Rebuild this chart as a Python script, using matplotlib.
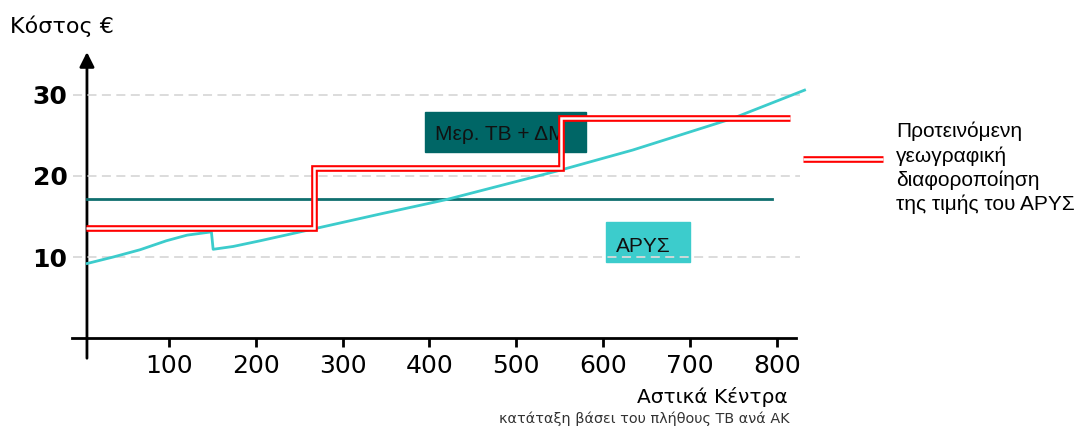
import matplotlib
matplotlib.use('Agg')
import matplotlib.pyplot as plt
import matplotlib.patheffects as pe
from matplotlib.patches import Rectangle
from matplotlib.lines import Line2D

# --- data ---
centres = [6, 36, 67, 97, 121, 149, 151, 174, 205, 268, 343, 420, 550, 634, 749, 832]
arys_cost = [9.2, 10.0, 10.9, 12.0, 12.7, 13.1, 10.95, 11.3, 12.0, 13.5, 15.3, 17.1, 20.7, 23.2, 27.1, 30.6]

flat_x = [6, 794]
flat_cost = [17.2, 17.2]

step_x = [5, 267, 551, 815]
step_cost = [13.6, 21.0, 27.2, 27.2]

x_ticks = [100, 200, 300, 400, 500, 600, 700, 800]
y_ticks = [10, 20, 30]

legend_label = 'Προτεινόμενη\nγεωγραφική\nδιαφοροποίηση\nτης τιμής του ΑΡΥΣ'
box_labels = ['Μερ. ΤΒ + ΔΜ', 'ΑΡΥΣ']

CYAN = '#3ccccc'
TEAL = '#006666'
ARIAL = ['Liberation Sans', 'DejaVu Sans']
double_red = [pe.Stroke(linewidth=4.8, foreground='#ff0000'), pe.Normal()]

fig = plt.figure(figsize=(10.83, 4.34), dpi=100)
ax = fig.add_axes([0.0661, 0.1652, 0.6816, 0.7279])
ax.set_xlim(-12, 838)
ax.set_ylim(-3, 36)

for s in ('top', 'right', 'left'):
    ax.spines[s].set_visible(False)
ax.spines['left'].set_position(('data', 5.7))
ax.spines['bottom'].set_position(('data', 0))
ax.spines['bottom'].set_bounds(-11, 822)
ax.spines['bottom'].set_linewidth(2)

ax.set_xticks(x_ticks)
ax.set_yticks(y_ticks)
ax.tick_params(axis='x', direction='out', length=6.5, width=2, pad=5, labelsize=18)
ax.tick_params(axis='y', length=0, pad=14, labelsize=18)
for t in ax.get_yticklabels():
    t.set_fontweight('bold')

# y axis with arrow head
ax.annotate('', xy=(5.7, 35.3), xytext=(5.7, -2.5),
            arrowprops=dict(arrowstyle='-|>', lw=2, color='black', mutation_scale=22,
                            shrinkA=0, shrinkB=0))

# dashed grid
ax.hlines(y_ticks, -10, 827, colors='#d9d9d9', linestyles=(0, (5, 3)), lw=1.3, zorder=3)

# boxes
ax.add_patch(Rectangle((395, 23.0), 185, 4.9, color=TEAL, zorder=2))
ax.text(407, 24.4, box_labels[0], fontsize=15, family=ARIAL, color='#111111', zorder=2.5)
ax.add_patch(Rectangle((603, 9.4), 97, 4.9, color=CYAN, zorder=2))
ax.text(615, 10.6, box_labels[1], fontsize=15, family=ARIAL, color='#111111', zorder=2.5)

ax.plot(flat_x, flat_cost, color='#0f6f6f', lw=2, zorder=4)
ax.plot(centres, arys_cost, color=CYAN, lw=2.0, zorder=4)

ax.step(step_x, step_cost, where='post', color='white', lw=1.8, zorder=5,
        solid_joinstyle='miter', solid_capstyle='butt', path_effects=double_red)

# legend key and text
key = Line2D([803 / 1083, 883 / 1083], [1 - 158.5 / 434] * 2, transform=fig.transFigure,
             color='white', lw=1.8, solid_capstyle='butt', path_effects=double_red)
fig.add_artist(key)
fig.text(896 / 1083, 1 - 168 / 434, legend_label, fontsize=15, family=ARIAL,
         ha='left', va='center', linespacing=1.32)

fig.text(10 / 1083, 1 - 33 / 434, 'Κόστος €', fontsize=16, ha='left', va='baseline')
fig.text(788 / 1083, 1 - 403 / 434, 'Αστικά Κέντρα', fontsize=14.5, ha='right', va='baseline')
fig.text(790 / 1083, 1 - 423 / 434, 'κατάταξη βάσει του πλήθους ΤΒ ανά ΑΚ', fontsize=10.4,
         color='#333333', ha='right', va='baseline')

fig.savefig('out.png', dpi=100)
